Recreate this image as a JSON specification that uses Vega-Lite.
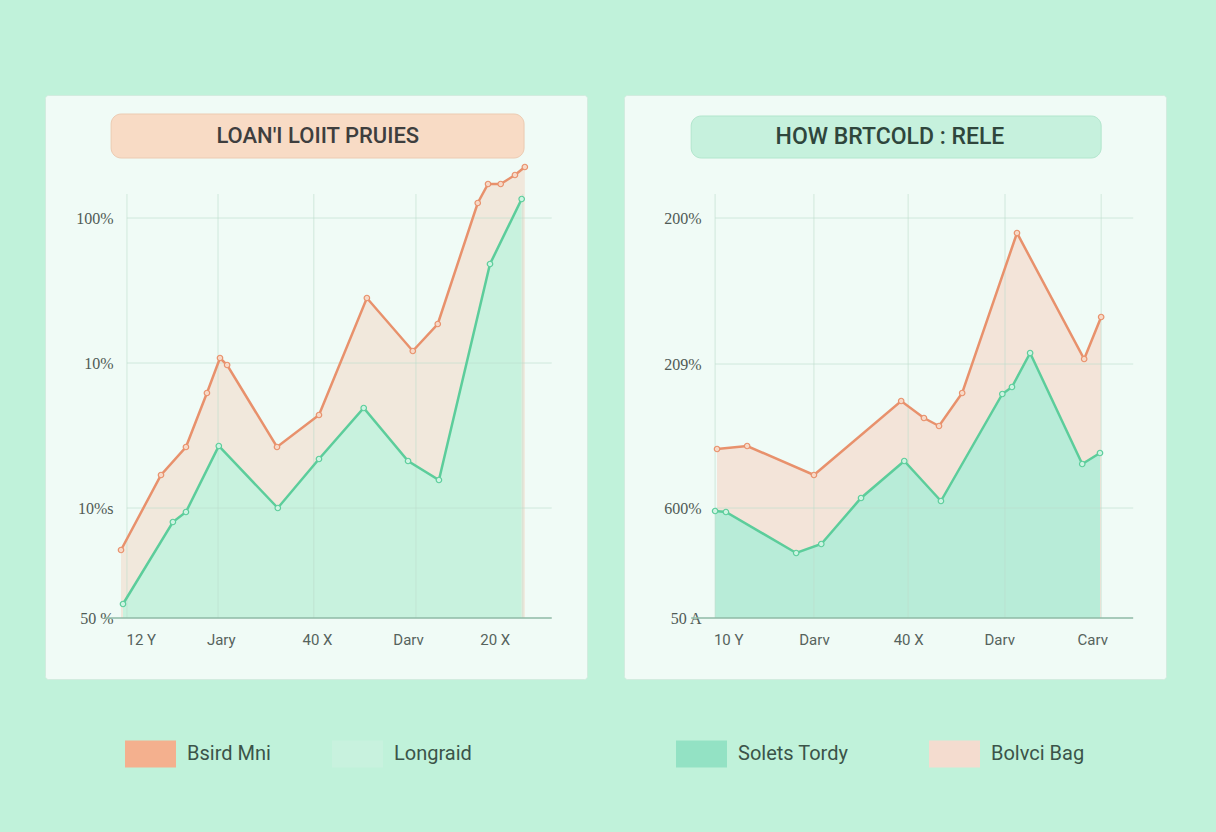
{
  "$schema": "https://vega.github.io/schema/vega-lite/v6.json",
  "background": "#c0f2da",
  "padding": {"left": 44, "top": 94, "right": 52, "bottom": 10},
  "autosize": {"type": "pad"},
  "datasets": {
    "left": [
      {"series": "Bsird Mni", "x": -1.5, "y": 17},
      {"series": "Bsird Mni", "x": 8.6, "y": 35.75},
      {"series": "Bsird Mni", "x": 14.9, "y": 42.75},
      {"series": "Bsird Mni", "x": 20.2, "y": 56.25},
      {"series": "Bsird Mni", "x": 23.5, "y": 65},
      {"series": "Bsird Mni", "x": 25.3, "y": 63.25},
      {"series": "Bsird Mni", "x": 37.9, "y": 42.75},
      {"series": "Bsird Mni", "x": 48.5, "y": 50.75},
      {"series": "Bsird Mni", "x": 60.6, "y": 80},
      {"series": "Bsird Mni", "x": 72.2, "y": 66.75},
      {"series": "Bsird Mni", "x": 78.5, "y": 73.5},
      {"series": "Bsird Mni", "x": 88.6, "y": 103.75},
      {"series": "Bsird Mni", "x": 91.2, "y": 108.5},
      {"series": "Bsird Mni", "x": 94.4, "y": 108.5},
      {"series": "Bsird Mni", "x": 98, "y": 110.75},
      {"series": "Bsird Mni", "x": 100.5, "y": 112.75},
      {"series": "Longraid", "x": -1, "y": 3.5},
      {"series": "Longraid", "x": 11.6, "y": 24},
      {"series": "Longraid", "x": 14.9, "y": 26.5},
      {"series": "Longraid", "x": 23.2, "y": 43},
      {"series": "Longraid", "x": 38.1, "y": 27.5},
      {"series": "Longraid", "x": 48.5, "y": 39.75},
      {"series": "Longraid", "x": 59.8, "y": 52.5},
      {"series": "Longraid", "x": 71, "y": 39.25},
      {"series": "Longraid", "x": 78.8, "y": 34.5},
      {"series": "Longraid", "x": 91.7, "y": 88.5},
      {"series": "Longraid", "x": 99.7, "y": 104.75}
    ],
    "right": [
      {"series": "Bolvci Bag", "x": 0.5, "y": 42.25},
      {"series": "Bolvci Bag", "x": 8.3, "y": 43},
      {"series": "Bolvci Bag", "x": 25.6, "y": 35.75},
      {"series": "Bolvci Bag", "x": 48.2, "y": 54.25},
      {"series": "Bolvci Bag", "x": 54.1, "y": 50},
      {"series": "Bolvci Bag", "x": 58, "y": 48},
      {"series": "Bolvci Bag", "x": 64, "y": 56.25},
      {"series": "Bolvci Bag", "x": 78.2, "y": 96.25},
      {"series": "Bolvci Bag", "x": 95.6, "y": 64.75},
      {"series": "Bolvci Bag", "x": 100, "y": 75.25},
      {"series": "Solets Tordy", "x": 0, "y": 26.75},
      {"series": "Solets Tordy", "x": 2.8, "y": 26.5},
      {"series": "Solets Tordy", "x": 21, "y": 16.25},
      {"series": "Solets Tordy", "x": 27.5, "y": 18.5},
      {"series": "Solets Tordy", "x": 37.8, "y": 30},
      {"series": "Solets Tordy", "x": 49, "y": 39.25},
      {"series": "Solets Tordy", "x": 58.5, "y": 29.25},
      {"series": "Solets Tordy", "x": 74.4, "y": 56},
      {"series": "Solets Tordy", "x": 76.9, "y": 57.75},
      {"series": "Solets Tordy", "x": 81.6, "y": 66.25},
      {"series": "Solets Tordy", "x": 95.1, "y": 38.5},
      {"series": "Solets Tordy", "x": 99.7, "y": 41.25}
    ]
  },
  "hconcat": [
    {
      "width": 542,
      "height": 584,
      "layer": [
        {
          "data": {"name": "left"},
          "transform": [{"filter": "datum.series === 'Bsird Mni'"}],
          "mark": {"type": "area"},
          "encoding": {
            "x": {"field": "x", "type": "quantitative", "title": null,
                  "scale": {"domain": [-20.7, 116.2], "nice": false, "zero": false},
                  "axis": {"orient": "bottom", "offset": -61, "domain": false, "ticks": false, "grid": false,
                           "values": [3.5, 23.7, 48, 71, 92.9], "labelOverlap": false, "labelPadding": 14,
                           "labelFont": "Roboto", "labelFontSize": 15, "labelColor": "#56635d",
                           "labelExpr": "datum.value < 10 ? '12 Y' : datum.value < 35 ? 'Jary' : datum.value < 60 ? '40 X' : datum.value < 85 ? 'Darv' : '20 X'"}},
            "y": {"field": "y", "type": "quantitative", "title": null,
                  "scale": {"domain": [-15.25, 130.75], "nice": false, "zero": false},
                  "axis": {"orient": "left", "offset": -72, "domain": false, "ticks": false, "grid": false,
                           "values": [0, 27.5, 63.75, 100], "labelOverlap": false, "labelPadding": 4,
                           "labelFont": "Liberation Serif", "labelFontSize": 16, "labelColor": "#4f5a55",
                           "labelExpr": "datum.value > 90 ? '100%' : datum.value > 50 ? '10%' : datum.value > 10 ? '10%s' : '50 %'"}},
            "y2": {"datum": 0},
            "fill": {"field": "series", "type": "nominal",
                     "scale": {"domain": ["Bsird Mni", "Longraid"], "range": ["#f4b08e", "#c8f2de"]},
                     "legend": {"title": null, "orient": "bottom", "direction": "horizontal",
                                "symbolType": "M-1,-0.53H1V0.53H-1Z", "symbolSize": 2601, "symbolStrokeWidth": 0,
                                "symbolOpacity": 1, "labelFont": "Roboto", "labelFontSize": 20, "labelColor": "#3b5449",
                                "labelOffset": 11, "columnPadding": 61, "padding": 80, "offset": -31}},
            "fillOpacity": {"value": 0.25}
          }
        },
        {
          "data": {"name": "left"},
          "transform": [{"filter": "datum.series === 'Longraid'"}],
          "mark": {"type": "area"},
          "encoding": {
            "x": {"field": "x", "type": "quantitative", "title": null},
            "y": {"field": "y", "type": "quantitative", "title": null},
            "y2": {"datum": 0},
            "fill": {"field": "series", "type": "nominal"},
            "fillOpacity": {"value": 1}
          }
        },
        {
          "data": {"values": [{"gx": 0}, {"gx": 23}, {"gx": 47.2}, {"gx": 73}, {"gx": 100}]},
          "mark": {"type": "rule", "color": "#bcdccc", "strokeOpacity": 0.6, "strokeWidth": 1},
          "encoding": {
            "x": {"field": "gx", "type": "quantitative", "title": null},
            "y": {"datum": 0},
            "y2": {"datum": 106}
          }
        },
        {
          "data": {"values": [{"gy": 27.5}, {"gy": 63.75}, {"gy": 100}]},
          "mark": {"type": "rule", "color": "#bcdccc", "strokeOpacity": 0.6, "strokeWidth": 1},
          "encoding": {
            "y": {"field": "gy", "type": "quantitative", "title": null},
            "x": {"datum": 0},
            "x2": {"datum": 107.3}
          }
        },
        {
          "data": {"values": [{"gy": 0}]},
          "mark": {"type": "rule", "color": "#8fbaa6", "strokeWidth": 1.5},
          "encoding": {
            "y": {"field": "gy", "type": "quantitative", "title": null},
            "x": {"datum": -5.6},
            "x2": {"datum": 107.3}
          }
        },
        {
          "data": {"name": "left"},
          "transform": [{"filter": "datum.series === 'Bsird Mni'"}],
          "mark": {"type": "line", "color": "#e8916c", "strokeWidth": 2.5,
                   "point": {"filled": true, "fill": "#f7d9c7", "stroke": "#e8916c", "strokeWidth": 1.2, "size": 30}},
          "encoding": {
            "x": {"field": "x", "type": "quantitative", "title": null},
            "y": {"field": "y", "type": "quantitative", "title": null}
          }
        },
        {
          "data": {"name": "left"},
          "transform": [{"filter": "datum.series === 'Longraid'"}],
          "mark": {"type": "line", "color": "#5ccd9b", "strokeWidth": 2.5,
                   "point": {"filled": true, "fill": "#cdf4e2", "stroke": "#5ccd9b", "strokeWidth": 1.2, "size": 30}},
          "encoding": {
            "x": {"field": "x", "type": "quantitative", "title": null},
            "y": {"field": "y", "type": "quantitative", "title": null}
          }
        },
        {
          "data": {"values": [{}]},
          "mark": {"type": "rect", "fill": "#f8dbc5", "stroke": "#eccbb2", "strokeWidth": 1, "cornerRadius": 10},
          "encoding": {
            "x": {"datum": -4},
            "x2": {"datum": 100.3},
            "y": {"datum": 126},
            "y2": {"datum": 115}
          }
        },
        {
          "data": {"values": [{}]},
          "mark": {"type": "text", "text": "LOAN'I LOIIT PRUIES", "font": "Roboto", "fontSize": 22,
                   "fontWeight": 500, "color": "#3e3e3e", "align": "center", "baseline": "middle"},
          "encoding": {
            "x": {"datum": 48.2},
            "y": {"datum": 120.5}
          }
        }
      ]
    },
    {
      "width": 542,
      "height": 584,
      "layer": [
        {
          "data": {"name": "right"},
          "transform": [{"filter": "datum.series === 'Bolvci Bag'"}],
          "mark": {"type": "area"},
          "encoding": {
            "x": {"field": "x", "type": "quantitative", "title": null,
                  "scale": {"domain": [-23.6, 116.8], "nice": false, "zero": false},
                  "axis": {"orient": "bottom", "offset": -61, "domain": false, "ticks": false, "grid": false,
                           "values": [3.4, 25.6, 50, 73.6, 97.7], "labelOverlap": false, "labelPadding": 14,
                           "labelFont": "Roboto", "labelFontSize": 15, "labelColor": "#56635d",
                           "labelExpr": "datum.value < 10 ? '10 Y' : datum.value < 35 ? 'Darv' : datum.value < 60 ? '40 X' : datum.value < 85 ? 'Darv' : 'Carv'"}},
            "y": {"field": "y", "type": "quantitative", "title": null,
                  "scale": {"domain": [-15.25, 130.75], "nice": false, "zero": false},
                  "axis": {"orient": "left", "offset": -81, "domain": false, "ticks": false, "grid": false,
                           "values": [0, 27.5, 63.5, 100], "labelOverlap": false, "labelPadding": 4,
                           "labelFont": "Liberation Serif", "labelFontSize": 16, "labelColor": "#4f5a55",
                           "labelExpr": "datum.value > 90 ? '200%' : datum.value > 50 ? '209%' : datum.value > 10 ? '600%' : '50 A'"}},
            "y2": {"datum": 0},
            "fill": {"field": "series", "type": "nominal",
                     "scale": {"domain": ["Solets Tordy", "Bolvci Bag"], "range": ["#93e2c4", "#f4dccf"]},
                     "legend": {"title": null, "orient": "bottom", "direction": "horizontal",
                                "symbolType": "M-1,-0.53H1V0.53H-1Z", "symbolSize": 2601, "symbolStrokeWidth": 0,
                                "symbolOpacity": 1, "labelFont": "Roboto", "labelFontSize": 20, "labelColor": "#3b5449",
                                "labelOffset": 11, "columnPadding": 80, "padding": 52, "offset": -3}},
            "fillOpacity": {"value": 0.75}
          }
        },
        {
          "data": {"name": "right"},
          "transform": [{"filter": "datum.series === 'Solets Tordy'"}],
          "mark": {"type": "area", "fill": "#f0fbf6"},
          "encoding": {
            "x": {"field": "x", "type": "quantitative", "title": null},
            "y": {"field": "y", "type": "quantitative", "title": null},
            "y2": {"datum": 0}
          }
        },
        {
          "data": {"name": "right"},
          "transform": [{"filter": "datum.series === 'Solets Tordy'"}],
          "mark": {"type": "area"},
          "encoding": {
            "x": {"field": "x", "type": "quantitative", "title": null},
            "y": {"field": "y", "type": "quantitative", "title": null},
            "y2": {"datum": 0},
            "fill": {"field": "series", "type": "nominal"},
            "fillOpacity": {"value": 0.6}
          }
        },
        {
          "data": {"values": [{"gx": 0}, {"gx": 25.6}, {"gx": 50}, {"gx": 75.1}, {"gx": 100}]},
          "mark": {"type": "rule", "color": "#bcdccc", "strokeOpacity": 0.6, "strokeWidth": 1},
          "encoding": {
            "x": {"field": "gx", "type": "quantitative", "title": null},
            "y": {"datum": 0},
            "y2": {"datum": 106}
          }
        },
        {
          "data": {"values": [{"gy": 27.5}, {"gy": 63.5}, {"gy": 100}]},
          "mark": {"type": "rule", "color": "#bcdccc", "strokeOpacity": 0.6, "strokeWidth": 1},
          "encoding": {
            "y": {"field": "gy", "type": "quantitative", "title": null},
            "x": {"datum": 0},
            "x2": {"datum": 108.3}
          }
        },
        {
          "data": {"values": [{"gy": 0}]},
          "mark": {"type": "rule", "color": "#8fbaa6", "strokeWidth": 1.5},
          "encoding": {
            "y": {"field": "gy", "type": "quantitative", "title": null},
            "x": {"datum": -6.2},
            "x2": {"datum": 108.3}
          }
        },
        {
          "data": {"name": "right"},
          "transform": [{"filter": "datum.series === 'Bolvci Bag'"}],
          "mark": {"type": "line", "color": "#e8916c", "strokeWidth": 2.5,
                   "point": {"filled": true, "fill": "#f7d9c7", "stroke": "#e8916c", "strokeWidth": 1.2, "size": 30}},
          "encoding": {
            "x": {"field": "x", "type": "quantitative", "title": null},
            "y": {"field": "y", "type": "quantitative", "title": null}
          }
        },
        {
          "data": {"name": "right"},
          "transform": [{"filter": "datum.series === 'Solets Tordy'"}],
          "mark": {"type": "line", "color": "#5ccd9b", "strokeWidth": 2.5,
                   "point": {"filled": true, "fill": "#cdf4e2", "stroke": "#5ccd9b", "strokeWidth": 1.2, "size": 30}},
          "encoding": {
            "x": {"field": "x", "type": "quantitative", "title": null},
            "y": {"field": "y", "type": "quantitative", "title": null}
          }
        },
        {
          "data": {"values": [{}]},
          "mark": {"type": "rect", "fill": "#c6f1dd", "stroke": "#b2e6cd", "strokeWidth": 1, "cornerRadius": 10},
          "encoding": {
            "x": {"datum": -6.2},
            "x2": {"datum": 100},
            "y": {"datum": 125.5},
            "y2": {"datum": 115}
          }
        },
        {
          "data": {"values": [{}]},
          "mark": {"type": "text", "text": "HOW BRTCOLD : RELE", "font": "Roboto", "fontSize": 23,
                   "fontWeight": 500, "color": "#2f463c", "align": "center", "baseline": "middle"},
          "encoding": {
            "x": {"datum": 45.3},
            "y": {"datum": 120.25}
          }
        }
      ]
    }
  ],
  "resolve": {"scale": {"x": "independent", "y": "independent", "fill": "independent"}, "legend": {"fill": "independent"}},
  "config": {
    "concat": {"spacing": 35},
    "view": {"fill": "#f0fbf6", "stroke": "#d2ecdf", "strokeWidth": 1, "cornerRadius": 3}
  }
}
